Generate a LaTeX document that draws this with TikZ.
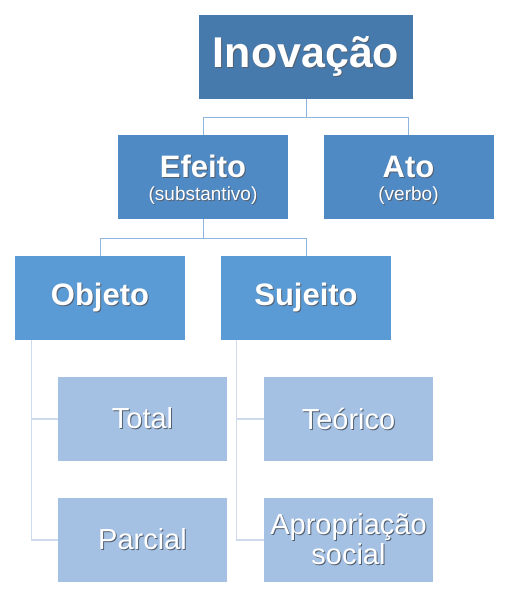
\documentclass[tikz,border=0pt]{standalone}
\usepackage{fontspec}
\setmainfont{Liberation Sans}
\usepackage{xcolor}
\usetikzlibrary{positioning}
\definecolor{toplevel}{RGB}{70,122,172}
\definecolor{midlevel}{RGB}{80,138,196}
\definecolor{lowlevel}{RGB}{91,155,213}
\definecolor{leaflevel}{RGB}{164,193,228}
\definecolor{linedark}{RGB}{143,180,222}
\definecolor{linelight}{RGB}{205,219,237}
\definecolor{shadowc}{RGB}{40,55,75}
\newcommand{\shd}[1]{\leavevmode\rlap{\kern1pt\raisebox{-1pt}{\color{shadowc!80}#1}}#1}

\begin{document}
\begin{tikzpicture}[x=1pt, y=-1pt,
  lvlbox/.style = {inner sep=0pt, minimum width=170pt, minimum height=84pt, align=center, text=white},
  topbox/.style = {lvlbox, fill=toplevel, minimum width=214pt, font=\fontsize{43}{46}\selectfont\bfseries},
  midbox/.style = {lvlbox, fill=midlevel, font=\fontsize{19}{23}\selectfont},
  lowbox/.style = {lvlbox, fill=lowlevel, font=\fontsize{31}{34}\selectfont\bfseries},
  leafbox/.style = {lvlbox, fill=leaflevel, minimum width=169pt, font=\fontsize{29}{30}\selectfont},
  link/.style = {draw=linedark, line width=1pt},
  linklight/.style = {draw=linelight, line width=1.2pt},
]
\useasboundingbox (0,0) rectangle (512,599);
% levels
\node[topbox] (inov) at (306,57) {\shd{Inovação}};
\node[midbox] (efeito) at (203,177) {\rule{0pt}{29pt}{\fontsize{31}{34}\selectfont\bfseries\shd{Efeito}}\\\shd{(substantivo)}};
\node[midbox] (ato) at (408.5,177) {\rule{0pt}{29pt}{\fontsize{31}{34}\selectfont\bfseries\shd{Ato}}\\\shd{(verbo)}};
\node[lowbox] (objeto) at (100,298) {\shd{Objeto}};
\node[lowbox] (sujeito) at (306,298) {\shd{Sujeito}};
\node[leafbox] (total) at (142.5,419) {\shd{Total}};
\node[leafbox] (parcial) at (142.5,540) {\shd{Parcial}};
\node[leafbox] (teorico) at (348.5,419) {\shd{Teórico}};
\node[leafbox] (apropr) at (348.5,540) {\shd{Apropriação}\\\shd{social}};
% connectors
\draw[link] (inov.south) -- ++(0,18) -| (efeito.north);
\draw[link] (inov.south) -- ++(0,18) -| (ato.north);
\draw[link] (efeito.south) -- ++(0,19) -| (objeto.north);
\draw[link] (efeito.south) -- ++(0,19) -| (sujeito.north);
\draw[linklight] ([xshift=17pt]objeto.south west) |- (total.west);
\draw[linklight] ([xshift=17pt]objeto.south west) |- (parcial.west);
\draw[linklight] ([xshift=16pt]sujeito.south west) |- (teorico.west);
\draw[linklight] ([xshift=16pt]sujeito.south west) |- (apropr.west);
\end{tikzpicture}
\end{document}
